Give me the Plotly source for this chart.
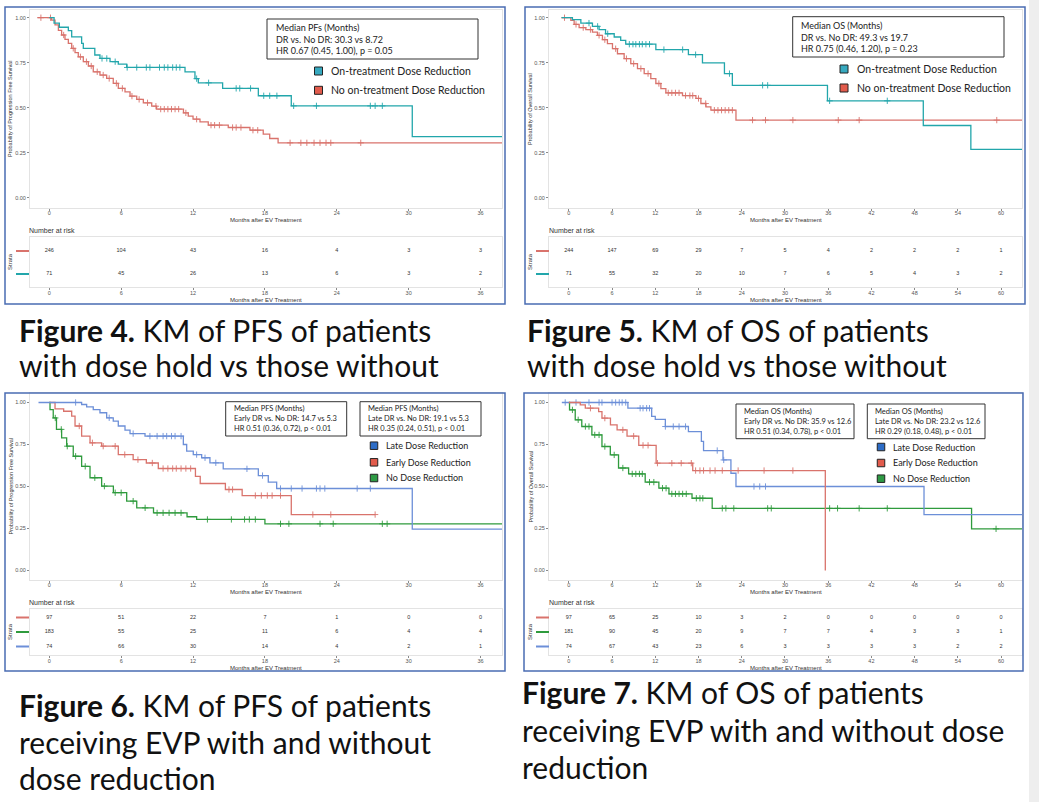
import plotly.graph_objects as go

# ---------------- shared tick data ----------------
ticks_36 = [0, 6, 12, 18, 24, 30, 36]
ticks_60 = [0, 6, 12, 18, 24, 30, 36, 42, 48, 54, 60]
surv_ticks = [0, 0.25, 0.5, 0.75, 1.0]
surv_ticklabels = ["0.00", "0.25", "0.50", "0.75", "1.00"]

# ---------------- Figure 4: PFS, on-treatment dose reduction ----------------
f4_dr_t = [0, 0.4, 0.84, 1.59, 1.87, 2.7, 2.84, 3.8, 4.23, 5.07, 5.76, 6.46, 11.33, 12.16, 12.44, 14.47, 17.45, 20.2, 30.3]
f4_dr_s = [1.0, 0.97, 0.947, 0.928, 0.894, 0.858, 0.83, 0.793, 0.774, 0.756, 0.743, 0.724, 0.70, 0.662, 0.639, 0.608, 0.567, 0.511, 0.34]
f4_dr_cens = [4.4, 4.8, 5.5, 6.5, 7.3, 8.1, 8.4, 9.2, 9.6, 9.9, 10.3, 10.6, 10.9, 12.3, 13.3, 15.6, 15.9, 16.8, 17.9, 18.4, 19.0, 20.4, 22.3, 26.8, 27.2, 27.8]
f4_nodr_t = [-1.0, 0.2, 0.48, 0.76, 1.03, 1.31, 1.59, 1.87, 2.15, 2.42, 2.84, 3.26, 3.67, 4.23, 4.79, 5.34, 5.76, 6.32, 6.74, 7.3, 7.85, 8.55, 8.96, 11.2, 11.6, 12.0, 12.58, 13.27, 14.94, 16.75, 17.86, 18.4, 19.1]
f4_nodr_s = [1.0, 0.987, 0.96, 0.93, 0.904, 0.88, 0.858, 0.83, 0.806, 0.783, 0.756, 0.732, 0.70, 0.682, 0.663, 0.636, 0.608, 0.589, 0.565, 0.547, 0.528, 0.509, 0.493, 0.472, 0.454, 0.437, 0.422, 0.404, 0.391, 0.376, 0.354, 0.33, 0.306]
f4_nodr_cens = [-0.7, 0.1, 1.2, 2.0, 2.6, 3.1, 3.5, 4.0, 4.5, 5.0, 5.6, 6.1, 6.9, 7.5, 8.2, 8.9, 9.3, 9.6, 9.9, 10.2, 10.5, 10.8, 11.4, 12.3, 13.5, 13.8, 14.2, 15.3, 15.6, 16.0, 17.0, 17.4, 20.1, 21.0, 21.5, 22.1, 22.6, 23.1, 23.5, 26.0]
f4_end = 37.8
f4_risk_nodr = [246, 104, 43, 16, 4, 3, 3]
f4_risk_dr = [71, 45, 26, 13, 6, 3, 2]
f4_box = ["Median PFs (Months)", "DR vs. No DR: 30.3 vs 8.72", "HR 0.67 (0.45, 1.00), p = 0.05"]
f4_legend = ["On-treatment Dose Reduction", "No on-treatment Dose Reduction"]
f4_caption = ["<b>Figure 4.</b> KM of PFS of patients", "with dose hold vs those without"]

# ---------------- Figure 5: OS, on-treatment dose reduction ----------------
f5_dr_t = [-1.0, 0.5, 1.67, 3.28, 4.2, 5.1, 6.3, 7.2, 7.9, 12.08, 16.6, 18.55, 21.6, 22.7, 35.9, 49.2, 55.8]
f5_dr_s = [1.0, 0.989, 0.97, 0.952, 0.934, 0.911, 0.893, 0.874, 0.853, 0.823, 0.795, 0.749, 0.69, 0.625, 0.539, 0.402, 0.27]
f5_dr_cens = [2.8, 4.0, 5.4, 8.4, 8.9, 9.3, 9.8, 10.2, 10.7, 11.2, 13.2, 15.8, 17.6, 22.3, 26.9, 27.6, 36.2, 44.2]
f5_nodr_t = [-1.0, 0.28, 0.74, 1.43, 2.36, 3.28, 3.97, 4.67, 5.36, 6.06, 6.75, 7.68, 8.6, 9.53, 10.46, 11.38, 12.08, 12.78, 13.47, 15.78, 17.64, 18.33, 19.03, 19.72, 23.2]
f5_nodr_s = [1.0, 0.985, 0.963, 0.945, 0.934, 0.92, 0.902, 0.878, 0.856, 0.828, 0.80, 0.773, 0.745, 0.718, 0.69, 0.662, 0.635, 0.607, 0.583, 0.568, 0.552, 0.524, 0.505, 0.487, 0.432]
f5_nodr_cens = [-0.6, 1.0, 2.0, 3.0, 4.2, 5.0, 6.5, 8.0, 9.0, 10.0, 11.0, 12.5, 13.8, 14.3, 14.8, 15.3, 16.2, 16.8, 17.2, 18.0, 19.0, 20.2, 20.7, 21.2, 21.7, 22.2, 22.7, 25.5, 27.3, 31.1, 37.4, 40.3, 59.4]
f5_end = 63.0
f5_risk_nodr = [244, 147, 69, 29, 7, 5, 4, 2, 2, 2, 1]
f5_risk_dr = [71, 55, 32, 20, 10, 7, 6, 5, 4, 3, 2]
f5_box = ["Median OS (Months)", "DR vs. No DR: 49.3 vs 19.7", "HR 0.75 (0.46, 1.20), p = 0.23"]
f5_legend = ["On-treatment Dose Reduction", "No on-treatment Dose Reduction"]
f5_caption = ["<b>Figure 5.</b> KM of OS of patients", "with dose hold vs those without"]

# ---------------- Figure 6: PFS, early / late / no dose reduction ----------------
f6_late_t = [-0.9, 2.7, 3.12, 3.67, 4.23, 4.79, 5.34, 5.76, 6.32, 6.74, 7.99, 11.19, 11.47, 12.02, 12.72, 13.41, 14.52, 17.45, 18.28, 18.98, 30.3]
f6_late_s = [1.0, 0.988, 0.974, 0.958, 0.939, 0.909, 0.889, 0.86, 0.836, 0.815, 0.80, 0.75, 0.71, 0.69, 0.671, 0.641, 0.605, 0.565, 0.526, 0.488, 0.246]
f6_late_cens = [2.2, 5.0, 7.0, 8.4, 9.0, 9.5, 9.8, 10.2, 10.5, 11.0, 12.3, 13.0, 13.9, 16.5, 17.8, 19.3, 20.2, 21.1, 22.3, 22.6, 23.0, 25.7, 26.8]
f6_early_t = [0, 0.48, 1.2, 1.87, 2.15, 2.7, 3.4, 4.37, 5.76, 7.0, 8.1, 9.1, 12.2, 12.6, 14.7, 16.1, 20.2]
f6_early_s = [1.0, 0.962, 0.948, 0.919, 0.86, 0.80, 0.76, 0.74, 0.69, 0.66, 0.64, 0.607, 0.56, 0.518, 0.482, 0.446, 0.333]
f6_early_cens = [2.5, 3.6, 4.5, 5.5, 6.3, 7.4, 8.6, 9.5, 9.9, 10.3, 10.6, 11.0, 11.4, 11.8, 15.0, 15.3, 17.2, 17.7, 18.2, 18.6, 19.3, 22.0, 23.5, 27.2]
f6_none_t = [0, 0.06, 0.33, 0.6, 1.03, 1.45, 2.0, 2.7, 3.4, 4.37, 5.35, 6.46, 7.3, 8.7, 11.5, 12.3, 18.0]
f6_none_s = [1.0, 0.958, 0.908, 0.84, 0.79, 0.74, 0.68, 0.62, 0.552, 0.502, 0.463, 0.413, 0.373, 0.343, 0.32, 0.304, 0.278]
f6_none_cens = [0.5, 1.0, 1.5, 2.2, 3.0, 3.8, 4.6, 5.5, 6.0, 7.0, 8.0, 9.0, 9.5, 10.0, 10.5, 11.0, 13.2, 15.2, 16.3, 16.7, 17.2, 19.3, 20.0, 22.6, 23.7, 27.8, 28.2]
f6_end = 37.8
f6_early_end = 27.2
f6_risk_early = [97, 51, 22, 7, 1, 0, 0]
f6_risk_none = [183, 55, 25, 11, 6, 4, 4]
f6_risk_late = [74, 66, 30, 14, 4, 2, 1]
f6_box1 = ["Median PFS (Months)", "Early DR vs. No DR: 14.7 vs 5.3", "HR 0.51 (0.36, 0.72), p < 0.01"]
f6_box2 = ["Median PFS (Months)", "Late DR vs. No DR: 19.1 vs 5.3", "HR 0.35 (0.24, 0.51), p < 0.01"]
f6_legend = ["Late Dose Reduction", "Early Dose Reduction", "No Dose Reduction"]
f6_caption = ["<b>Figure 6.</b> KM of PFS of patients", "receiving EVP with and without", "dose reduction"]

# ---------------- Figure 7: OS, early / late / no dose reduction ----------------
f7_late_t = [-0.97, 8.2, 11.5, 12.0, 13.4, 16.6, 18.4, 18.7, 21.4, 22.5, 23.2, 49.3]
f7_late_s = [1.0, 0.966, 0.917, 0.90, 0.857, 0.827, 0.768, 0.714, 0.658, 0.579, 0.50, 0.333]
f7_late_cens = [-0.5, 1.0, 2.8, 4.2, 4.6, 6.0, 6.5, 7.0, 7.4, 7.9, 9.9, 10.3, 10.8, 11.2, 13.4, 14.5, 15.3, 16.2, 20.6, 21.5, 25.7, 26.5, 27.3]
f7_early_t = [0, 1.59, 2.29, 4.14, 4.6, 5.78, 6.7, 8.08, 9.71, 12.12, 17.2, 35.6]
f7_early_s = [1.0, 0.986, 0.966, 0.946, 0.907, 0.867, 0.837, 0.80, 0.745, 0.639, 0.595, 0.0]
f7_early_cens = [3.0, 5.0, 7.5, 9.0, 10.3, 11.0, 12.3, 14.3, 15.6, 17.0, 17.6, 18.2, 18.7, 19.6, 20.3, 21.3, 23.5, 27.1, 31.1]
f7_none_t = [0, 0.1, 0.89, 1.8, 3.2, 4.6, 5.76, 6.9, 8.3, 10.6, 12.5, 13.9, 17.1, 19.9, 55.9]
f7_none_s = [1.0, 0.956, 0.897, 0.857, 0.807, 0.738, 0.688, 0.61, 0.575, 0.526, 0.49, 0.456, 0.43, 0.37, 0.248]
f7_none_cens = [0.5, 1.3, 2.3, 2.8, 3.6, 4.2, 5.0, 6.3, 7.5, 8.8, 9.3, 9.8, 10.2, 11.2, 11.8, 13.0, 13.5, 14.3, 14.8, 15.3, 15.8, 16.3, 17.7, 18.2, 18.6, 21.3, 21.8, 22.9, 27.6, 28.1, 36.2, 37.3, 40.3, 44.2, 59.3]
f7_end = 63.0
f7_risk_early = [97, 65, 25, 10, 3, 2, 0, 0, 0, 0, 0]
f7_risk_none = [181, 90, 45, 20, 9, 7, 7, 4, 3, 3, 1]
f7_risk_late = [74, 67, 43, 23, 6, 3, 3, 3, 3, 2, 2]
f7_box1 = ["Median OS (Months)", "Early DR vs. No DR: 35.9 vs 12.6", "HR 0.51 (0.34, 0.78), p < 0.01"]
f7_box2 = ["Median OS (Months)", "Late DR vs. No DR: 23.2 vs 12.6", "HR 0.29 (0.18, 0.48), p < 0.01"]
f7_legend = ["Late Dose Reduction", "Early Dose Reduction", "No Dose Reduction"]
f7_caption = ["<b>Figure 7.</b> KM of OS of patients", "receiving EVP with and without dose", "reduction"]

x_title = "Months after EV Treatment"
pfs_title = "Probability of Progression Free Survival"
os_title = "Probability of Overall Survival"

# ---------------- styling ----------------
TEAL, RED, BLUE, GREEN = "#22A6AB", "#D9736C", "#6C8FD8", "#2F9B3D"
SQ_TEAL, SQ_RED, SQ_BLUE, SQ_GREEN = "#36A9BF", "#E25B4C", "#2C6CC6", "#2E9A44"
FRAME = "#4A6CB3"
AXF = "Liberation Sans, Arial, sans-serif"
CALF = "Lato, 'Open Sans', sans-serif"

W, H = 1039, 802
def fx(x): return x / W
def fy(y): return 1 - y / H

fig = go.Figure()
layout_axes = {}
shapes = []
annots = []

def aname(k, i): return f"{k}axis" if i == 1 else f"{k}axis{i}"
def aref(k, i): return k if i == 1 else f"{k}{i}"

def step_xy(t, s, end):
    x, y = list(t), list(s)
    if end is not None and end > x[-1]:
        x.append(end); y.append(s[-1])
    return x, y

def surv_at(t, s, c):
    v = s[0]
    for ti, si in zip(t, s):
        if ti <= c:
            v = si
    return v

def axis_style(**kw):
    d = dict(showgrid=False, zeroline=False, showline=True, linecolor="#e3e3e3", linewidth=1, mirror=True,
             ticks="outside", ticklen=2, tickwidth=0.8, tickcolor="#8a8a8a",
             tickfont=dict(size=5.5, color="#555", family=AXF))
    d.update(kw)
    return d

def add_panel(i, ti, xpx, ypx, xr, yr, tab_ypx, tab_yr, xticks, curves, risk, ytitle, lbl_x0):
    xa, ya, txa, tya = aref("x", i), aref("y", i), aref("x", ti), aref("y", ti)
    layout_axes[aname("x", i)] = axis_style(domain=[fx(xpx[0]), fx(xpx[1])], range=xr, anchor=ya, tickvals=xticks,
                                             ticklabelstandoff=-3)
    layout_axes[aname("y", i)] = axis_style(domain=[fy(ypx[1]), fy(ypx[0])], range=yr, anchor=xa,
                                             tickvals=surv_ticks, ticktext=surv_ticklabels)
    layout_axes[aname("x", ti)] = axis_style(domain=[fx(xpx[0]), fx(xpx[1])], range=xr, anchor=tya, tickvals=xticks,
                                              ticklabelstandoff=-2)
    layout_axes[aname("y", ti)] = axis_style(domain=[fy(tab_ypx[1]), fy(tab_ypx[0])], range=tab_yr, anchor=txa,
                                              showticklabels=False, ticks="")
    for c in curves:
        x, y = step_xy(c["t"], c["s"], c["end"])
        fig.add_trace(go.Scatter(x=x, y=y, mode="lines", line=dict(color=c["color"], width=1.3, shape="hv"),
                                 xaxis=xa, yaxis=ya, showlegend=False, hoverinfo="skip"))
        fig.add_trace(go.Scatter(x=c["cens"], y=[surv_at(c["t"], c["s"], v) for v in c["cens"]], mode="markers",
                                 marker=dict(symbol="cross-thin", size=4.5, line=dict(width=0.9, color=c["color"])),
                                 xaxis=xa, yaxis=ya, showlegend=False, hoverinfo="skip"))
    for row_y, vals, col in risk:
        fig.add_trace(go.Scatter(x=xticks, y=[row_y] * len(vals), mode="text", text=[str(v) for v in vals],
                                 textfont=dict(size=5.5, color="#333", family=AXF),
                                 xaxis=txa, yaxis=tya, showlegend=False, hoverinfo="skip"))
        shapes.append(dict(type="line", xref="paper", yref=tya, x0=fx(lbl_x0 + 6), x1=fx(lbl_x0 + 19),
                           y0=row_y, y1=row_y, line=dict(color=col, width=2)))
    xc = (xpx[0] + xpx[1]) / 2
    small = dict(size=6, color="#333", family=AXF)
    annots.append(dict(x=fx(xc), y=fy(ypx[1] + 12), xref="paper", yref="paper", text=x_title,
                       showarrow=False, font=small, xanchor="center", yanchor="middle"))
    annots.append(dict(x=fx(xc), y=fy(tab_ypx[1] + 12.5), xref="paper", yref="paper", text=x_title,
                       showarrow=False, font=small, xanchor="center", yanchor="middle"))
    annots.append(dict(x=fx(lbl_x0), y=fy((ypx[0] + ypx[1]) / 2), xref="paper", yref="paper", text=ytitle,
                       showarrow=False, font=dict(size=5.5, color="#333", family=AXF), textangle=-90,
                       xanchor="center", yanchor="middle"))
    annots.append(dict(x=fx(lbl_x0), y=fy((tab_ypx[0] + tab_ypx[1]) / 2), xref="paper", yref="paper", text="Strata",
                       showarrow=False, font=dict(size=6, color="#333", family=AXF), textangle=-90,
                       xanchor="center", yanchor="middle"))
    annots.append(dict(x=fx(lbl_x0 + 17), y=fy(tab_ypx[0] - 7), xref="paper", yref="paper", text="Number at risk",
                       showarrow=False, font=dict(size=7, color="#333", family=AXF), xanchor="left", yanchor="middle"))

def add_box(x0, x1, y0, y1, tx, lines, size):
    shapes.append(dict(type="rect", xref="paper", yref="paper", x0=fx(x0), x1=fx(x1), y0=fy(y1), y1=fy(y0),
                       line=dict(color="#333", width=1), fillcolor="white", layer="above"))
    annots.append(dict(x=fx(tx), y=fy((y0 + y1) / 2), xref="paper", yref="paper", text="<br>".join(lines),
                       showarrow=False, align="left", xanchor="left", yanchor="middle",
                       font=dict(size=size, color="#222", family=CALF)))

def add_legend(sx, ys, tx, labels, cols, size, sq):
    for y, lab, col in zip(ys, labels, cols):
        shapes.append(dict(type="rect", xref="paper", yref="paper", x0=fx(sx - sq / 2), x1=fx(sx + sq / 2),
                           y0=fy(y + sq / 2), y1=fy(y - sq / 2), line=dict(color="#222", width=1), fillcolor=col))
        annots.append(dict(x=fx(tx), y=fy(y), xref="paper", yref="paper", text=lab, showarrow=False,
                           xanchor="left", yanchor="middle", font=dict(size=size, color="#222", family=CALF)))

def add_caption(x, ys, lines):
    for y, ln in zip(ys, lines):
        annots.append(dict(x=fx(x), y=fy(y), xref="paper", yref="paper", text=ln, showarrow=False,
                           xanchor="left", yanchor="middle", font=dict(size=30, color="#111", family=CALF)))

# ---------------- panels ----------------
add_panel(1, 5, (30, 502), (10, 208), [-1.61, 37.79], [-0.0555, 1.0427], (237, 287), [0.435, 2.609], ticks_36,
          [dict(t=f4_nodr_t, s=f4_nodr_s, end=f4_end, cens=f4_nodr_cens, color=RED),
           dict(t=f4_dr_t, s=f4_dr_s, end=f4_end, cens=f4_dr_cens, color=TEAL)],
          [(2, f4_risk_nodr, RED), (1, f4_risk_dr, TEAL)], pfs_title, 10)
add_panel(2, 6, (549, 1022), (10, 208), [-2.75, 62.9], [-0.0555, 1.0427], (237, 287), [0.435, 2.609], ticks_60,
          [dict(t=f5_nodr_t, s=f5_nodr_s, end=f5_end, cens=f5_nodr_cens, color=RED),
           dict(t=f5_dr_t, s=f5_dr_s, end=f5_end, cens=f5_dr_cens, color=TEAL)],
          [(2, f5_risk_nodr, RED), (1, f5_risk_dr, TEAL)], os_title, 530)
add_panel(3, 7, (30, 502), (393, 580), [-1.61, 37.79], [-0.0565, 1.0565], (609, 655), [0.414, 3.586], ticks_36,
          [dict(t=f6_none_t, s=f6_none_s, end=f6_end, cens=f6_none_cens, color=GREEN),
           dict(t=f6_early_t, s=f6_early_s, end=f6_early_end, cens=f6_early_cens, color=RED),
           dict(t=f6_late_t, s=f6_late_s, end=f6_end, cens=f6_late_cens, color=BLUE)],
          [(3, f6_risk_early, RED), (2, f6_risk_none, GREEN), (1, f6_risk_late, BLUE)], pfs_title, 10)
add_panel(4, 8, (549, 1022), (393, 580), [-2.75, 62.9], [-0.0565, 1.0565], (609, 655), [0.414, 3.586], ticks_60,
          [dict(t=f7_none_t, s=f7_none_s, end=f7_end, cens=f7_none_cens, color=GREEN),
           dict(t=f7_late_t, s=f7_late_s, end=f7_end, cens=f7_late_cens, color=BLUE),
           dict(t=f7_early_t, s=f7_early_s, end=None, cens=f7_early_cens, color=RED)],
          [(3, f7_risk_early, RED), (2, f7_risk_none, GREEN), (1, f7_risk_late, BLUE)], os_title, 530)

# stat boxes
add_box(267, 478, 19, 59, 273.5, f4_box, 9)
add_box(792.7, 1004, 16.7, 57, 799.3, f5_box, 9)
add_box(225.7, 346.7, 401.7, 436, 231.7, f6_box1, 7.5)
add_box(360, 481, 401.7, 436, 366, f6_box2, 7.5)
add_box(736, 854, 404, 438.7, 741.7, f7_box1, 7.5)
add_box(867.3, 985, 404, 438.7, 872.7, f7_box2, 7.5)

# legends
add_legend(318.5, [71, 90.3], 329, f4_legend, [SQ_TEAL, SQ_RED], 10.5, 8)
add_legend(844, [69, 88], 855, f5_legend, [SQ_TEAL, SQ_RED], 10.5, 8)
add_legend(374, [445.7, 462.3, 478], 384, f6_legend, [SQ_BLUE, SQ_RED, SQ_GREEN], 9, 7.5)
add_legend(881, [447, 463, 478.7], 890.7, f7_legend, [SQ_BLUE, SQ_RED, SQ_GREEN], 9, 7.5)

# panel frames
for (x0, y0, x1, y1) in [(5, 7, 505, 304), (525, 7, 1025, 304), (5, 393, 505, 671), (524, 393, 1023, 671)]:
    shapes.append(dict(type="rect", xref="paper", yref="paper", x0=fx(x0), x1=fx(x1), y0=fy(y1), y1=fy(y0),
                       line=dict(color=FRAME, width=1.5)))
# faint grey strip on right edge of the page
shapes.append(dict(type="rect", xref="paper", yref="paper", x0=fx(1029), x1=1, y0=0, y1=1,
                   line=dict(width=0), fillcolor="#eeeeee", layer="below"))

# captions
add_caption(17, [330, 365], f4_caption)
add_caption(525, [330, 365], f5_caption)
add_caption(17, [705, 742, 778], f6_caption)
add_caption(520, [692, 730, 767], f7_caption)

fig.update_layout(width=W, height=H, margin=dict(l=0, r=0, t=0, b=0), paper_bgcolor="white",
                  plot_bgcolor="white", showlegend=False, shapes=shapes, annotations=annots, **layout_axes)
fig.write_html("out.html")
